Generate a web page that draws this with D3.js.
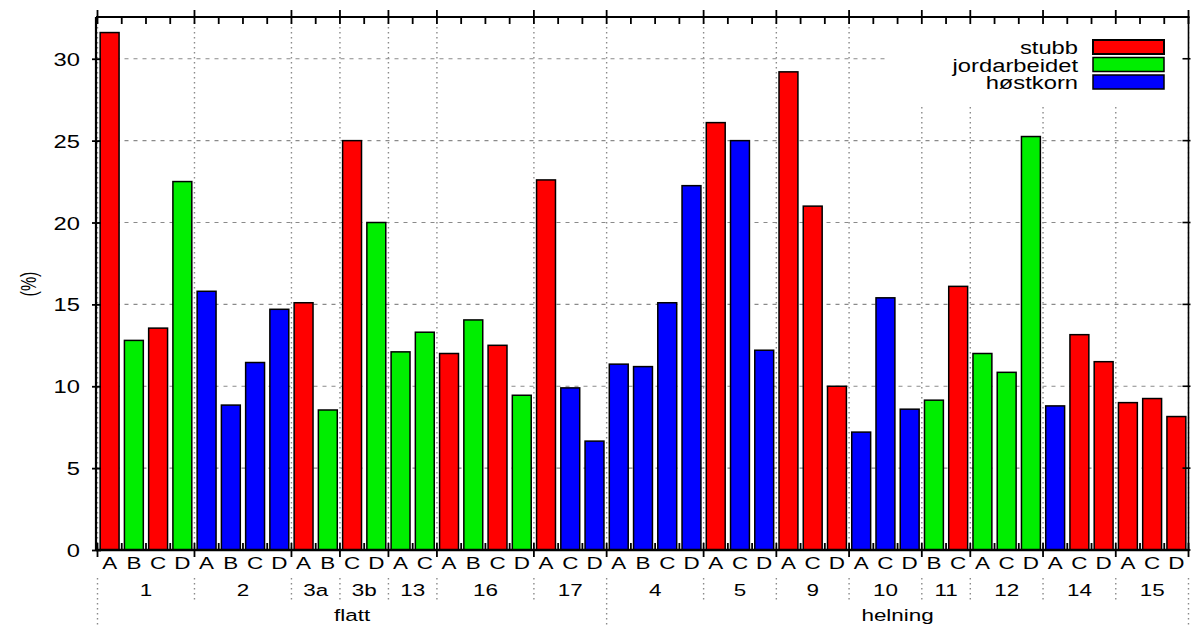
<!DOCTYPE html>
<html>
<head>
<meta charset="utf-8">
<script src="https://cdn.jsdelivr.net/npm/d3@7"></script>
<style>
  body { margin: 0; background: #fff; }
  svg { display: block; }
  text { font-family: "Liberation Sans", Arial, Helvetica, sans-serif; fill: #000; }
</style>
</head>
<body>
<svg id="chart" width="1191" height="625"></svg>
<script>
// ---- data -------------------------------------------------------------
const seriesNames = ["stubb", "jordarbeidet", "høstkorn"];
const seriesColors = ["#ff0000", "#00ee00", "#0000ff"];

const groupLabels = ["1", "2", "3a", "3b", "13", "16", "17", "4", "5", "9", "10", "11", "12", "14", "15"];
const groupSection = ["flatt", "flatt", "flatt", "flatt", "flatt", "flatt", "flatt",
  "helning", "helning", "helning", "helning", "helning", "helning", "helning", "helning"];
const sectionLabels = ["flatt", "helning"];

// one entry per bar
const barGroup = [
  "1", "1", "1", "1",
  "2", "2", "2", "2",
  "3a", "3a",
  "3b", "3b",
  "13", "13",
  "16", "16", "16", "16",
  "17", "17", "17",
  "4", "4", "4", "4",
  "5", "5", "5",
  "9", "9", "9",
  "10", "10", "10",
  "11", "11",
  "12", "12", "12",
  "14", "14", "14",
  "15", "15", "15"
];
const barLetter = [
  "A", "B", "C", "D",
  "A", "B", "C", "D",
  "A", "B",
  "C", "D",
  "A", "C",
  "A", "B", "C", "D",
  "A", "C", "D",
  "A", "B", "C", "D",
  "A", "C", "D",
  "A", "C", "D",
  "A", "C", "D",
  "B", "C",
  "A", "C", "D",
  "A", "C", "D",
  "A", "C", "D"
];
const barSeries = [
  "stubb", "jordarbeidet", "stubb", "jordarbeidet",
  "høstkorn", "høstkorn", "høstkorn", "høstkorn",
  "stubb", "jordarbeidet",
  "stubb", "jordarbeidet",
  "jordarbeidet", "jordarbeidet",
  "stubb", "jordarbeidet", "stubb", "jordarbeidet",
  "stubb", "høstkorn", "høstkorn",
  "høstkorn", "høstkorn", "høstkorn", "høstkorn",
  "stubb", "høstkorn", "høstkorn",
  "stubb", "stubb", "stubb",
  "høstkorn", "høstkorn", "høstkorn",
  "jordarbeidet", "stubb",
  "jordarbeidet", "jordarbeidet", "jordarbeidet",
  "høstkorn", "stubb", "stubb",
  "stubb", "stubb", "stubb"
];
const barValue = [
  31.6, 12.8, 13.55, 22.5,
  15.8, 8.85, 11.45, 14.7,
  15.1, 8.55,
  25.0, 20.0,
  12.1, 13.3,
  12.0, 14.05, 12.5, 9.45,
  22.6, 9.9, 6.65,
  11.35, 11.2, 15.1, 22.25,
  26.1, 25.0, 12.2,
  29.2, 21.0, 10.0,
  7.2, 15.4, 8.6,
  9.15, 16.1,
  12.0, 10.85, 25.25,
  8.8, 13.15, 11.5,
  9.0, 9.25, 8.15
];
const yTickValues = [0, 5, 10, 15, 20, 25, 30];
const yDomainMax = 32.55;
const yTitle = "(%)";

// ---- layout -----------------------------------------------------------
const svg = d3.select("#chart");
const plotLeft = 97.5, plotRight = 1188.5, plotTop = 17, plotBottom = 550;
const SX = 1.32; // horizontal stretch of the lettering

const n = barValue.length;
const x = d3.scaleBand().domain(d3.range(n)).range([plotLeft, plotRight])
  .paddingInner(0.22).paddingOuter(0.11);
const step = x.step();
const slotLeft = i => x(i) - step * 0.11;
const y = d3.scaleLinear().domain([0, yDomainMax]).range([plotBottom, plotTop]);
const color = d3.scaleOrdinal().domain(seriesNames).range(seriesColors);

// group boundaries (bar index where each group starts / ends)
const groupStart = groupLabels.map(g => barGroup.indexOf(g));
const groupEnd = groupLabels.map(g => barGroup.lastIndexOf(g) + 1);
const sectionStart = sectionLabels.map(s => groupStart[groupSection.indexOf(s)]);
const sectionEnd = sectionLabels.map(s => groupEnd[groupSection.lastIndexOf(s)]);
const boundaries = Array.from(new Set([...groupStart, n]));
const sectionBounds = Array.from(new Set([...sectionStart, n]));
const boundX = i => (i >= n ? plotRight : slotLeft(i));

function stretchedText(g, xPos, yPos, str, size, anchor) {
  return g.append("text")
    .attr("transform", `translate(${xPos},${yPos}) scale(${SX},1)`)
    .attr("text-anchor", anchor || "middle")
    .attr("font-size", size)
    .text(str);
}

// ---- grid -------------------------------------------------------------
const grid = svg.append("g");
grid.selectAll("line.h").data(yTickValues.filter(v => v > 0)).join("line")
  .attr("x1", plotLeft).attr("x2", plotRight)
  .attr("y1", d => y(d)).attr("y2", d => y(d))
  .attr("stroke", "#8a8a8a").attr("stroke-width", 1.2)
  .attr("stroke-dasharray", "4,5");
grid.selectAll("line.v").data(boundaries).join("line")
  .attr("x1", d => boundX(d)).attr("x2", d => boundX(d))
  .attr("y1", plotTop).attr("y2", plotBottom)
  .attr("stroke", "#8a8a8a").attr("stroke-width", 1.4)
  .attr("stroke-dasharray", "1.5,3.5");

// legend panel hides the grid behind it
svg.append("rect")
  .attr("x", 888).attr("y", plotTop + 1)
  .attr("width", plotRight - 888).attr("height", 86)
  .attr("fill", "#fff");

// ---- bars -------------------------------------------------------------
svg.append("g").selectAll("rect").data(barValue).join("rect")
  .attr("x", (d, i) => x(i))
  .attr("width", x.bandwidth())
  .attr("y", d => y(d))
  .attr("height", d => y(0) - y(d))
  .attr("fill", (d, i) => color(barSeries[i]))
  .attr("stroke", "#000").attr("stroke-width", 1.5);

// ---- frame & ticks ----------------------------------------------------
const frame = svg.append("g").attr("stroke", "#000").attr("fill", "none");
frame.append("line").attr("x1", 96).attr("x2", plotRight + 1).attr("y1", plotTop).attr("y2", plotTop).attr("stroke-width", 2.2);
frame.append("line").attr("x1", 96).attr("x2", plotRight + 1).attr("y1", plotBottom).attr("y2", plotBottom).attr("stroke-width", 2.6);
frame.append("line").attr("x1", 96).attr("x2", 96).attr("y1", plotTop).attr("y2", plotBottom).attr("stroke-width", 2.2);
frame.append("line").attr("x1", plotRight).attr("x2", plotRight).attr("y1", plotTop).attr("y2", plotBottom).attr("stroke-width", 1.6);

// minor ticks at every bar slot, major at group boundaries
const slotBounds = d3.range(1, n).filter(i => !boundaries.includes(i));
frame.selectAll("line.mt").data(slotBounds).join("line")
  .attr("x1", d => boundX(d)).attr("x2", d => boundX(d))
  .attr("y1", plotTop).attr("y2", plotTop + 7).attr("stroke-width", 1.8);
frame.selectAll("line.mb").data(slotBounds).join("line")
  .attr("x1", d => boundX(d)).attr("x2", d => boundX(d))
  .attr("y1", plotBottom - 7).attr("y2", plotBottom).attr("stroke-width", 1.8);
frame.selectAll("line.Mt").data(boundaries).join("line")
  .attr("x1", d => boundX(d)).attr("x2", d => boundX(d))
  .attr("y1", plotTop - 7).attr("y2", plotTop + 7).attr("stroke-width", 1.8);
frame.selectAll("line.Mb").data(boundaries).join("line")
  .attr("x1", d => boundX(d)).attr("x2", d => boundX(d))
  .attr("y1", plotBottom - 7).attr("y2", plotBottom + 7).attr("stroke-width", 1.8);

// y axis (left) through d3's axis generator, ticks restyled to cross the frame
const yAxis = svg.append("g").attr("transform", "translate(96,0)")
  .call(d3.axisLeft(y).tickValues(yTickValues).tickSize(4).tickPadding(0).tickFormat(d3.format("d")));
yAxis.select(".domain").remove();
yAxis.selectAll(".tick line").attr("x1", -4).attr("x2", 5).attr("stroke", "#000").attr("stroke-width", 1.8);
yAxis.selectAll(".tick text")
  .attr("x", null).attr("dy", null)
  .attr("transform", `translate(-16,6.5) scale(${SX},1)`)
  .attr("font-size", 18)
  .attr("font-family", "'Liberation Sans', Arial, Helvetica, sans-serif")
  .attr("fill", "#000");

// right side ticks
frame.selectAll("line.rt").data(yTickValues).join("line")
  .attr("x1", plotRight - 6).attr("x2", plotRight + 2)
  .attr("y1", d => y(d)).attr("y2", d => y(d)).attr("stroke-width", 1.6);

// y title
svg.append("text")
  .attr("transform", `translate(28,284) scale(1.35,1) rotate(-90)`)
  .attr("text-anchor", "middle")
  .attr("dy", "0.35em")
  .attr("font-size", 16)
  .text(yTitle);

// ---- category labels --------------------------------------------------
const labels = svg.append("g");
barLetter.forEach((l, i) => stretchedText(labels, x(i) + x.bandwidth() / 2, 569, l, 17));
groupLabels.forEach((g, k) => {
  const cx = (boundX(groupStart[k]) + boundX(groupEnd[k])) / 2;
  stretchedText(labels, cx, 596, g, 17);
});
sectionLabels.forEach((s, k) => {
  const cx = (boundX(sectionStart[k]) + boundX(sectionEnd[k])) / 2;
  stretchedText(labels, cx, 621, s, 17);
});

// dividers below the axis
const divs = svg.append("g").attr("stroke", "#8a8a8a").attr("stroke-width", 1.4).attr("stroke-dasharray", "1.5,3.5");
divs.selectAll("line").data(boundaries).join("line")
  .attr("x1", d => boundX(d)).attr("x2", d => boundX(d))
  .attr("y1", 578)
  .attr("y2", d => sectionBounds.includes(d) ? 625 : 600);

// ---- legend -----------------------------------------------------------
const legend = svg.append("g");
seriesNames.forEach((s, k) => {
  const top = 40 + k * 17.5;
  legend.append("rect")
    .attr("x", 1093).attr("y", top)
    .attr("width", 71).attr("height", 14)
    .attr("fill", color(s))
    .attr("stroke", "#000").attr("stroke-width", k === 0 ? 2 : 1.5);
  stretchedText(legend, 1078, top + 14, s, 18, "end");
});
</script>
</body>
</html>
